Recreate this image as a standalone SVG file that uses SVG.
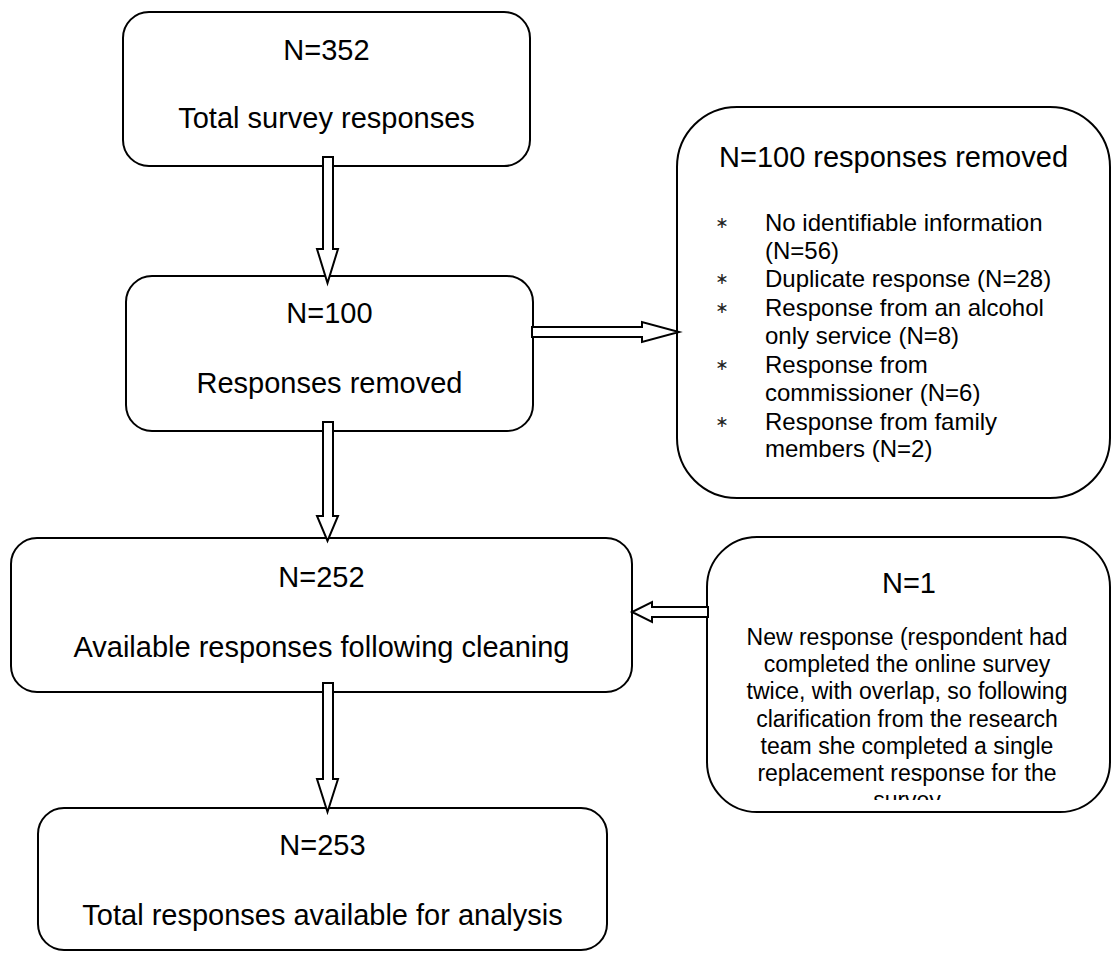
<svg xmlns="http://www.w3.org/2000/svg" width="1112" height="956" viewBox="0 0 1112 956">
<style>
.box{fill:#fff;stroke:#000;stroke-width:2}
.arr{fill:#fff;stroke:#000;stroke-width:2;stroke-linejoin:miter}
.t{font-family:"Liberation Sans",Arial,sans-serif;fill:#000}
.big{font-size:29px;text-anchor:middle}
.hd{font-size:29px}
.li{font-size:24px}
.bu{font-size:16px;font-family:"DejaVu Sans",sans-serif;fill:#222}
.p{font-size:23px;text-anchor:middle}
</style>
<defs>
<clipPath id="clipN1"><rect x="707" y="537" width="405" height="263"/></clipPath>
</defs>
<g id="n352">
<rect class="box" x="123" y="12" width="407" height="154" rx="26"/>
<text class="t big" x="326.5" y="60">N=352</text>
<text class="t big" x="326.5" y="128">Total survey responses</text>
</g>
<g id="n100">
<rect class="box" x="126" y="276" width="407" height="155" rx="26"/>
<text class="t big" x="329.5" y="323">N=100</text>
<text class="t big" x="329.5" y="393">Responses removed</text>
</g>
<g id="n252">
<rect class="box" x="11" y="538" width="621" height="154" rx="26"/>
<text class="t big" x="321.5" y="587">N=252</text>
<text class="t big" x="321.5" y="657">Available responses following cleaning</text>
</g>
<g id="n253">
<rect class="box" x="38" y="808" width="569" height="142" rx="26"/>
<text class="t big" x="322.5" y="855">N=253</text>
<text class="t big" x="322.5" y="925">Total responses available for analysis</text>
</g>
<g id="removed">
<rect class="box" x="677" y="107" width="433" height="391" rx="60"/>
<text class="t hd" x="719" y="167">N=100 responses removed</text>
<g class="t bu" text-anchor="middle">
<text x="722" y="228">∗</text>
<text x="722" y="284">∗</text>
<text x="722" y="313">∗</text>
<text x="722" y="370">∗</text>
<text x="722" y="427">∗</text>
</g>
<g class="t li">
<text x="765" y="231">No identifiable information</text>
<text x="765" y="259">(N=56)</text>
<text x="765" y="287">Duplicate response (N=28)</text>
<text x="765" y="316">Response from an alcohol</text>
<text x="765" y="344">only service (N=8)</text>
<text x="765" y="373">Response from</text>
<text x="765" y="401">commissioner (N=6)</text>
<text x="765" y="430">Response from family</text>
<text x="765" y="457">members (N=2)</text>
</g>
</g>
<g id="n1">
<rect class="box" x="707" y="537" width="403" height="275" rx="50"/>
<text class="t big" x="909" y="593">N=1</text>
<g class="t p" clip-path="url(#clipN1)">
<text x="907" y="645">New response (respondent had</text>
<text x="907" y="672">completed the online survey</text>
<text x="907" y="699">twice, with overlap, so following</text>
<text x="907" y="727">clarification from the research</text>
<text x="907" y="754">team she completed a single</text>
<text x="907" y="781">replacement response for the</text>
<text x="907" y="808">survey</text>
</g>
</g>
<g id="connectors">
<polygon class="arr" points="323,157 333,157 333,249 338,249 327.5,283 317,249 323,249"/>
<polygon class="arr" points="323,422 333,422 333,516 338,516 327.5,541 317,516 323,516"/>
<polygon class="arr" points="323,683 333,683 333,779 338,779 327.5,812 317,779 323,779"/>
<polygon class="arr" points="532,327 642,327 642,322 679,332 642,342 642,337 532,337"/>
<polygon class="arr" points="708,607 652,607 652,602 632,612 652,622 652,617 708,617"/>
</g>
</svg>
